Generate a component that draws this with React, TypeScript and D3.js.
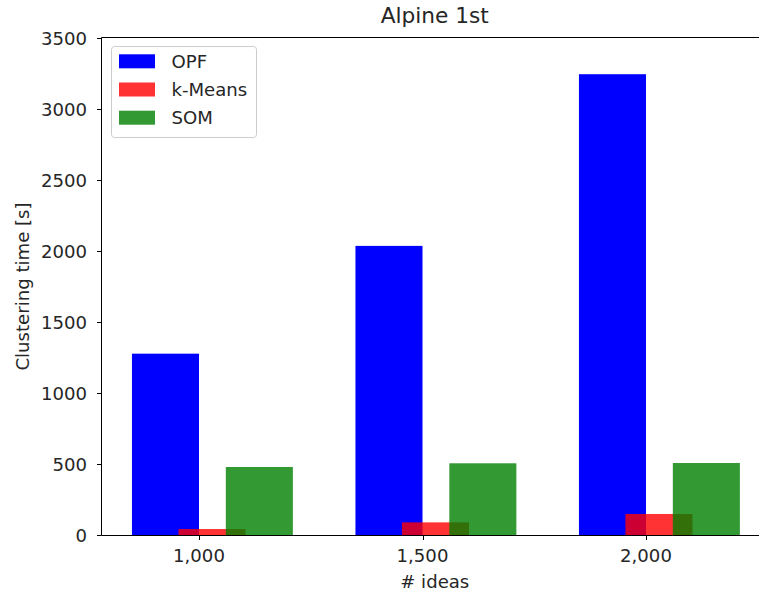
import React from "react";
import * as d3 from "d3";

const categories = [1000, 1500, 2000];
const opf = [1277, 2036, 3245];
const kmeans = [42, 89, 148];
const som = [479, 505, 507];
const yTicks = [0, 500, 1000, 1500, 2000, 2500, 3000, 3500];

const W = 759;
const H = 596;
const left = 101.5;
const right = 768;
const top = 38;
const bottom = 535;
const FONT = "DejaVu Sans, sans-serif";
const FS = 18.1;

export default function App() {
  const x = d3.scaleLinear().domain([1000, 2000]).range([199, 646]);
  const y = d3.scaleLinear().domain([0, 3500]).range([bottom, top]);
  const bw = 150; // bar width in data units
  const series = [
    { name: "OPF", values: opf, offset: -150, fill: "#0000ff", opacity: 1 },
    { name: "k-Means", values: kmeans, offset: -46, fill: "#ff0000", opacity: 0.8 },
    { name: "SOM", values: som, offset: 60, fill: "#008000", opacity: 0.8 },
  ];
  const fmt = d3.format(",");
  const crisp = (v: number) => Math.round(v) + 0.5;
  return (
    <svg
      width={W}
      height={H}
      style={{ position: "absolute", left: 0, top: 0, background: "#fff" }}
      fontFamily={FONT}
    >
      <rect x={0} y={0} width={W} height={H} fill="#fff" />
      {series.map((s) =>
        s.values.map((v, i) => {
          const x0 = x(categories[i] + s.offset);
          const x1 = x(categories[i] + s.offset + bw);
          return (
            <rect
              key={s.name + i}
              x={x0}
              y={y(v)}
              width={x1 - x0}
              height={y(0) - y(v)}
              fill={s.fill}
              fillOpacity={s.opacity}
            />
          );
        })
      )}
      {/* spines */}
      <g stroke="#000" strokeWidth={1} fill="none">
        <line x1={left} y1={top - 0.5} x2={left} y2={bottom + 0.5} />
        <line x1={left} y1={bottom + 0.5} x2={right} y2={bottom + 0.5} />
        <line x1={left} y1={top - 0.5} x2={right} y2={top - 0.5} />
        <line x1={right} y1={top} x2={right} y2={bottom} />
      </g>
      {yTicks.map((t) => (
        <g key={t}>
          <line x1={left - 4.5} x2={left} y1={crisp(y(t))} y2={crisp(y(t))} stroke="#000" />
          <text
            x={87}
            y={y(t)}
            dy="0.36em"
            textAnchor="end"
            fontSize={FS}
            fill="#262626"
          >
            {t}
          </text>
        </g>
      ))}
      {categories.map((c) => (
        <g key={c}>
          <line
            x1={crisp(x(c))}
            x2={crisp(x(c))}
            y1={bottom}
            y2={bottom + 5}
            stroke="#000"
          />
          <text x={x(c)} y={562} textAnchor="middle" fontSize={FS} fill="#262626">
            {fmt(c)}
          </text>
        </g>
      ))}
      <text x={(left + right) / 2} y={588} textAnchor="middle" fontSize={FS} fill="#262626">
        # ideas
      </text>
      <text
        transform={`translate(28.5,${(top + bottom) / 2}) rotate(-90)`}
        textAnchor="middle"
        fontSize={FS}
        fill="#262626"
      >
        Clustering time [s]
      </text>
      <text x={(left + right) / 2} y={23} textAnchor="middle" fontSize={21.7} fill="#262626">
        Alpine 1st
      </text>
      {/* legend */}
      <rect
        x={111.5}
        y={46.5}
        width={145}
        height={91}
        rx={3}
        fill="#fff"
        fillOpacity={0.8}
        stroke="#cccccc"
      />
      {series.map((s, i) => (
        <g key={s.name}>
          <rect
            x={119}
            y={54.3 + i * 28.2}
            width={36}
            height={14}
            fill={s.fill}
            fillOpacity={s.opacity}
          />
          <text x={171.5} y={61.3 + i * 28.2} dy="0.36em" fontSize={FS} fill="#262626">
            {s.name}
          </text>
        </g>
      ))}
    </svg>
  );
}
